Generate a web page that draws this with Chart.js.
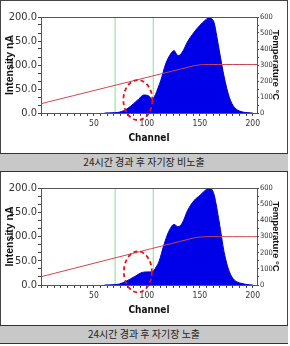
<!DOCTYPE html>
<html>
<head>
<meta charset="utf-8">
<script src="https://cdn.jsdelivr.net/npm/chart.js@4.4.1/dist/chart.umd.min.js"></script>
<style>
  body { margin: 0; background: #fff; }
  #frame { position: absolute; left: 0; top: 0; width: 286px; border: 1px solid #444; border-bottom: none; }
  .panel canvas { display: block; }
  .caption {
    height: 17px; line-height: 17px; background: #c8c8c8;
    border-top: 1px solid #333; border-bottom: 1px solid #333;
    margin: 0 -1px; text-align: center;
    font: 10px "Noto Sans CJK KR", sans-serif; color: #222;
  }
</style>
</head>
<body>
<div id="frame">
  <div class="panel"><canvas id="chartTop" width="286" height="152"></canvas></div>
  <div class="caption" id="capTop"></div>
  <div class="panel"><canvas id="chartBottom" width="286" height="153"></canvas></div>
  <div class="caption" id="capBottom"></div>
</div>
<script>
// intensity profiles (channel, nA)
const channelsTop = [60, 68, 72, 76, 80, 84.5, 90.8, 94, 97, 100, 102, 105, 108, 110.5, 113, 117.7, 122.4, 125.6, 129.4, 133.5, 138.3, 144.5, 147.8, 152.5, 156, 158.8, 161, 163.5, 166, 168.3, 173, 177.8, 182.5, 189, 196.5, 200];
const intensityTop = [0, 0.5, 1, 3, 7, 14, 26, 33, 37.5, 37, 35, 28.5, 38, 52, 67, 102, 123, 130, 119, 127, 148, 168, 177, 188, 195, 200, 197, 188, 160, 131, 75, 33, 12, 3, 0.5, 0];

const channelsBottom = [60, 68, 74, 79.7, 84.5, 89.2, 94, 97, 100.3, 105, 106.6, 109, 111.4, 116.1, 120.8, 125.6, 129.4, 133.5, 138.3, 144.5, 150.2, 154, 158.8, 161, 163.5, 168.3, 173, 177.8, 182.5, 189, 196.5, 200];
const intensityBottom = [0, 0.5, 2, 7, 12.6, 18.3, 24.6, 26.5, 27, 27, 30, 38, 48, 83, 111, 125, 120, 128, 153, 174, 185, 193, 200, 198, 186, 130, 67, 28, 10.5, 3.5, 0.5, 0];

// temperature ramp (channel, °C)
const tempChannels = [0, 145, 152, 158, 204];
const tempTop = [58, 296, 302, 303, 303];
const tempBottom = [51, 292, 298, 299, 299];

const markerChannels = [70, 106];

const xTickLabels = [50, 100, 150, 200];
const intensityTicks = [0, 50, 100, 150, 200];
const tempTicks = [0, 100, 200, 300, 400, 500, 600];

const captions = ['24시간 경과 후 자기장 비노출', '24시간 경과 후 자기장 노출'];

document.getElementById('capTop').textContent = captions[0];
document.getElementById('capBottom').textContent = captions[1];

const narrow = "'Liberation Sans Narrow', 'DejaVu Sans Condensed', 'Liberation Sans', sans-serif";
Chart.defaults.font.family = "'Liberation Sans', Arial, sans-serif";
Chart.defaults.color = '#222';

function subdivide(majors, parts) {
    const out = [];
    for (let i = 0; i < majors.length - 1; i++) {
        const step = (majors[i + 1] - majors[i]) / parts;
        for (let k = 0; k < parts; k++) out.push(majors[i] + k * step);
    }
    out.push(majors[majors.length - 1]);
    return out;
}

// plot box + the dashed circle around the small peak
const boxAndCircle = {
    id: 'boxAndCircle',
    afterDatasetsDraw(chart, args, opts) {
        const { ctx, chartArea: a, scales } = chart;
        ctx.save();
        ctx.strokeStyle = '#555';
        ctx.lineWidth = 1;
        ctx.strokeRect(Math.round(a.left) + 0.5, Math.round(a.top) + 0.5,
            Math.round(a.right - a.left), Math.round(a.bottom - a.top));
        const cx = scales.x.getPixelForValue(opts.ch);
        const cy = scales.y.getPixelForValue(opts.val);
        ctx.strokeStyle = '#e3131b';
        ctx.lineWidth = 1.8;
        ctx.setLineDash([4, 3]);
        ctx.beginPath();
        ctx.ellipse(cx, cy, opts.rx, opts.ry, 0, 0, Math.PI * 2);
        ctx.stroke();
        ctx.restore();
    }
};

function makeChart(id, channels, intensity, temps, circle) {
    const xMinor = subdivide([0].concat(xTickLabels), 8);
    const yMinor = subdivide(intensityTicks, 3);
    const tMinor = subdivide(tempTicks, 2);

    const markers = markerChannels.map(c => ({
        type: 'line',
        data: [{ x: c, y: 0 }, { x: c, y: 200 }],
        borderColor: '#8fdc8f',
        borderWidth: 1,
        pointRadius: 0,
        yAxisID: 'y',
        order: 3,
    }));

    return new Chart(document.getElementById(id), {
        type: 'line',
        data: {
            datasets: [
                {
                    data: channels.map((c, i) => ({ x: c, y: intensity[i] })),
                    backgroundColor: '#0000e8',
                    borderColor: '#0000c8',
                    borderWidth: 1,
                    fill: 'origin',
                    pointRadius: 0,
                    cubicInterpolationMode: 'monotone',
                    yAxisID: 'y',
                    order: 2,
                },
                {
                    data: tempChannels.map((c, i) => ({ x: c, y: temps[i] })),
                    borderColor: '#cf4450',
                    borderWidth: 1,
                    pointRadius: 0,
                    tension: 0.2,
                    yAxisID: 'y1',
                    order: 1,
                },
                ...markers,
            ],
        },
        options: {
            responsive: false,
            animation: false,
            layout: { padding: { top: 16 } },
            plugins: {
                legend: { display: false },
                tooltip: { enabled: false },
                boxAndCircle: circle,
            },
            scales: {
                x: {
                    type: 'linear',
                    min: 0,
                    max: 204,
                    afterBuildTicks: s => { s.ticks = xMinor.map(v => ({ value: v })); },
                    afterFit: s => { s.height = 40; },
                    grid: { drawOnChartArea: false, tickLength: 3, color: '#444' },
                    border: { color: '#444' },
                    ticks: {
                        autoSkip: false, maxRotation: 0, padding: 3,
                        font: { family: narrow, size: 8.5 }, color: '#333',
                        callback: v => xTickLabels.includes(v) ? String(v) : '',
                    },
                    title: {
                        display: true, text: 'Channel', color: '#111',
                        font: { family: narrow, size: 10, weight: 'bold', lineHeight: 1 },
                        padding: { top: 0, bottom: 9.5 },
                    },
                },
                y: {
                    position: 'left',
                    min: 0,
                    max: 200,
                    afterBuildTicks: s => { s.ticks = yMinor.map(v => ({ value: v })); },
                    afterFit: s => { s.width = 40; },
                    grid: { drawOnChartArea: false, tickLength: 3, color: '#444' },
                    border: { color: '#444' },
                    ticks: {
                        autoSkip: false, padding: 1,
                        font: { family: narrow, size: 11 }, color: '#333',
                        callback: v => intensityTicks.includes(v) ? v.toFixed(1) : '',
                    },
                    title: {
                        display: true, text: 'Intensity nA', color: '#111',
                        font: { size: 10.5, weight: 'bold', lineHeight: 1 },
                        padding: { top: 4, bottom: 0 },
                    },
                },
                y1: {
                    position: 'right',
                    min: 0,
                    max: 600,
                    afterBuildTicks: s => { s.ticks = tMinor.map(v => ({ value: v })); },
                    afterFit: s => { s.width = 30; },
                    grid: { drawOnChartArea: false, tickLength: 2, color: '#444' },
                    border: { color: '#444' },
                    ticks: {
                        autoSkip: false, padding: 1,
                        font: { family: narrow, size: 7.5 }, color: '#333',
                        callback: v => tempTicks.includes(v) ? String(v) : '',
                    },
                    title: {
                        display: true, text: 'Temperature °C', color: '#111',
                        font: { size: 9.5, weight: 'bold', lineHeight: 1 },
                        padding: { top: 6.5, bottom: 0 },
                    },
                },
            },
        },
        plugins: [boxAndCircle],
    });
}

makeChart('chartTop', channelsTop, intensityTop, tempTop, { ch: 91.5, val: 27, rx: 14.5, ry: 20 });
makeChart('chartBottom', channelsBottom, intensityBottom, tempBottom, { ch: 91.5, val: 27, rx: 14, ry: 20.5 });
</script>
</body>
</html>
